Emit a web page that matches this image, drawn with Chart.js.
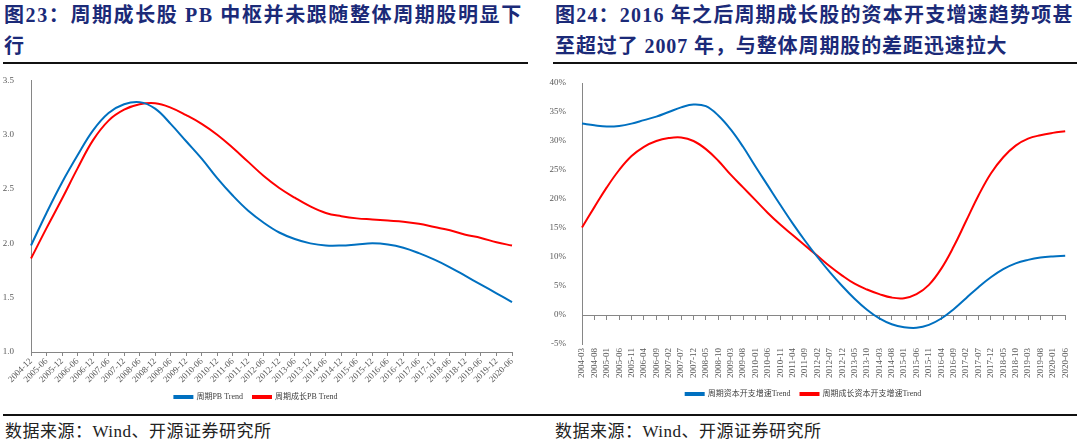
<!DOCTYPE html>
<html>
<head>
<meta charset="utf-8">
<script src="https://cdn.jsdelivr.net/npm/chart.js@4.4.1/dist/chart.umd.min.js"></script>
<style>
  html, body { margin: 0; padding: 0; background: #fff; }
  body { width: 1080px; height: 445px; position: relative; overflow: hidden; }
  .title { position: absolute; color: #1b2a78; font-weight: bold; font-size: 20px; line-height: 31px;
           font-family: "Liberation Serif", "Noto Sans CJK SC", serif; white-space: nowrap; }
  .rule { position: absolute; height: 2px; background: #111; }
  .src { position: absolute; top: 420px; font-size: 17px; line-height: 24px; color: #222; letter-spacing: 0.5px;
         font-family: "Liberation Serif", "Noto Sans CJK SC", serif; white-space: nowrap; }
  .box { position: absolute; top: 66px; width: 540px; height: 345px; }
</style>
</head>
<body>
<div class="title" style="left:4px;top:0px;letter-spacing:1.6px">图23：周期成长股 PB 中枢并未跟随整体周期股明显下</div>
<div class="title" style="left:4px;top:31px">行</div>
<div class="title" style="left:555px;top:0px;letter-spacing:1.2px">图24：2016 年之后周期成长股的资本开支增速趋势项甚</div>
<div class="title" style="left:555px;top:31px;letter-spacing:0.9px">至超过了 2007 年，与整体周期股的差距迅速拉大</div>
<div class="rule" style="left:3px;top:62px;width:525px"></div>
<div class="rule" style="left:553px;top:62px;width:524px"></div>

<div class="box" style="left:0px"><canvas id="c1"></canvas></div>
<div class="box" style="left:540px"><canvas id="c2"></canvas></div>

<div class="rule" style="left:3px;top:414px;width:1074px"></div>
<div class="src" style="left:5px">数据来源：Wind、开源证券研究所</div>
<div class="src" style="left:555px">数据来源：Wind、开源证券研究所</div>

<script>
// 图23 半年度标签
const pbLabels = ["2004-12","2005-06","2005-12","2006-06","2006-12","2007-06","2007-12","2008-06",
  "2008-12","2009-06","2009-12","2010-06","2010-12","2011-06","2011-12","2012-06","2012-12",
  "2013-06","2013-12","2014-06","2014-12","2015-06","2015-12","2016-06","2016-12","2017-06",
  "2017-12","2018-06","2018-12","2019-06","2019-12","2020-06"];
const pbCycle = [1.98,2.28,2.56,2.81,3.04,3.20,3.28,3.30,3.24,3.10,2.94,2.78,2.60,2.44,2.30,2.19,
  2.10,2.04,2.00,1.98,1.98,1.99,2.00,1.99,1.96,1.91,1.85,1.78,1.70,1.62,1.54,1.46];
const pbGrowth = [1.86,2.14,2.41,2.69,2.95,3.13,3.23,3.28,3.29,3.25,3.18,3.10,3.00,2.88,2.75,2.62,
  2.51,2.42,2.34,2.28,2.25,2.23,2.22,2.21,2.20,2.18,2.15,2.12,2.08,2.05,2.01,1.98];

// 图24 每5个月一个标签
const capexLabels = ["2004-03","2004-08","2005-01","2005-06","2005-11","2006-04","2006-09","2007-02",
  "2007-07","2007-12","2008-05","2008-10","2009-03","2009-08","2010-01","2010-06","2010-11","2011-04",
  "2011-09","2012-02","2012-07","2012-12","2013-05","2013-10","2014-03","2014-08","2015-01","2015-06",
  "2015-11","2016-04","2016-09","2017-02","2017-07","2017-12","2018-05","2018-10","2019-03","2019-08",
  "2020-01","2020-06"];
const capexCycle = [33.0,32.7,32.5,32.6,33.0,33.6,34.2,35.0,35.8,36.3,36.0,34.4,32.0,29.0,25.6,22.3,
  19.0,15.8,12.8,10.0,7.4,5.0,2.8,0.9,-0.6,-1.6,-2.1,-2.2,-1.7,-0.6,1.0,2.9,4.8,6.5,7.9,8.9,9.5,9.9,10.1,10.2];
const capexGrowth = [15.1,18.6,22.0,25.0,27.4,29.0,30.0,30.5,30.6,30.0,28.6,26.6,24.2,22.0,19.8,17.6,
  15.6,13.8,12.0,10.2,8.4,6.8,5.4,4.4,3.6,3.0,2.9,3.6,5.2,8.0,11.8,16.2,20.6,24.4,27.2,29.2,30.4,31.0,31.4,31.7];

const BLUE = "#0070C0";
const RED = "#FF0000";
const AXIS = "#868686";
const TICK = "#595959";
const FAM = '"Liberation Serif", "Noto Sans CJK SC", serif';

function line(label, data, color) {
  return { label, data, borderColor: color, backgroundColor: color, borderWidth: 2,
           pointRadius: 0, tension: 0.4, fill: false };
}

const legendOpts = {
  position: "bottom",
  labels: { boxWidth: 18, boxHeight: 2, padding: 10, color: "#404040", font: { family: FAM, size: 8 } }
};

new Chart(document.getElementById("c1"), {
  type: "line",
  data: { labels: pbLabels, datasets: [line("周期PB Trend", pbCycle, BLUE), line("周期成长PB Trend", pbGrowth, RED)] },
  options: {
    responsive: true, maintainAspectRatio: false, animation: false,
    layout: { padding: { left: 0, right: 28, top: 14, bottom: 0 } },
    plugins: { legend: legendOpts, tooltip: { enabled: false } },
    scales: {
      x: {
        offset: false,
        border: { display: true, color: AXIS, width: 1 },
        grid: { drawOnChartArea: false, drawTicks: true, tickLength: 4, color: AXIS },
        ticks: { autoSkip: false, maxRotation: 45, minRotation: 45, padding: 0, color: TICK,
                 font: { family: FAM, size: 9 } },
        afterFit: s => { s.height = 31; }
      },
      y: {
        min: 1, max: 3.5,
        border: { display: true, color: AXIS, width: 1 },
        grid: { display: false },
        ticks: { stepSize: 0.5, padding: 9, color: TICK, font: { family: FAM, size: 9 },
                 callback: v => v.toFixed(1) },
        afterFit: s => { s.width = 31; }
      }
    }
  }
});

new Chart(document.getElementById("c2"), {
  type: "line",
  data: { labels: capexLabels, datasets: [line("周期资本开支增速Trend", capexCycle, BLUE), line("周期成长资本开支增速Trend", capexGrowth, RED)] },
  options: {
    responsive: true, maintainAspectRatio: false, animation: false,
    layout: { padding: { left: 0, right: 13, top: 17, bottom: 3 } },
    plugins: { legend: legendOpts, tooltip: { enabled: false } },
    scales: {
      x: {
        offset: false,
        border: { display: false },
        grid: { display: false, drawTicks: false },
        ticks: { autoSkip: false, maxRotation: 90, minRotation: 90, padding: 4, color: TICK,
                 font: { family: FAM, size: 9 } },
        afterFit: s => { s.height = 36; }
      },
      x2: {
        type: "category", axis: "x", position: { y: 0 }, offset: false,
        border: { display: true, color: AXIS, width: 1 },
        grid: { drawOnChartArea: false, drawTicks: true, tickLength: 4, color: AXIS },
        ticks: { display: false }
      },
      y: {
        min: -5, max: 40,
        border: { display: true, color: AXIS, width: 1 },
        grid: { display: false },
        ticks: { stepSize: 5, padding: 8, color: TICK, font: { family: FAM, size: 9 },
                 callback: v => v + "%" },
        afterFit: s => { s.width = 42; }
      }
    }
  }
});
</script>
</body>
</html>
